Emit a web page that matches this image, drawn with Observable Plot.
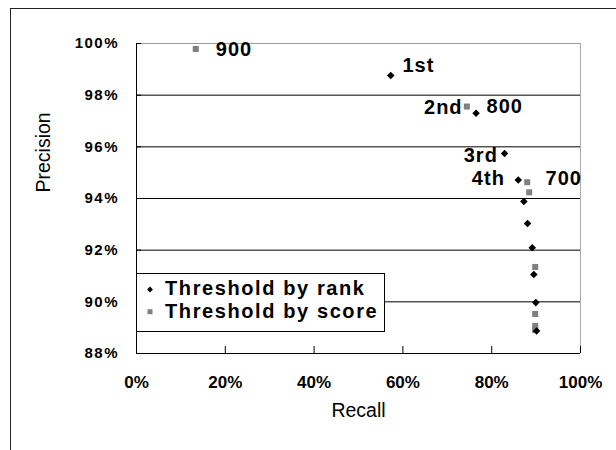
<!DOCTYPE html>
<html><head><meta charset="utf-8">
<script src="https://cdn.jsdelivr.net/npm/d3@7"></script>
<script src="https://cdn.jsdelivr.net/npm/@observablehq/plot@0.6"></script>
<style>
body{margin:0;background:#fff;}
#wrap{position:relative;width:616px;height:450px;overflow:hidden;font-family:"Liberation Sans",Arial,sans-serif;}
#outer{position:absolute;left:10px;top:8px;width:700px;height:600px;border-left:1.5px solid #222;border-top:1.5px solid #222;pointer-events:none;}
#chart{position:absolute;left:0;top:0;}
#legend{position:absolute;left:136px;top:273px;}
g[aria-label="x-axis tick label"]{font:bold 17px "Liberation Sans",Arial,sans-serif;}
g[aria-label="y-axis tick label"]{font:bold 15px "Liberation Sans",Arial,sans-serif;letter-spacing:1.5px;}
g.ptlabel{font:bold 20px "Liberation Sans",Arial,sans-serif;letter-spacing:1px;}
g.axlabel{font:19.5px "Liberation Sans",Arial,sans-serif;}
#legend text{font:bold 20px "Liberation Sans",Arial,sans-serif;letter-spacing:1.6px;}
</style>
</head><body>
<div id="wrap"><div id="chart"></div><div id="legend"></div><div id="outer"></div></div>
<script>
// Threshold by rank (black diamonds)
const rankRecall = [57.26, 76.48, 82.9, 85.98, 87.24, 88.07, 89.13, 89.49, 89.94, 90.1];
const rankPrecision = [98.76, 97.3, 95.74, 94.72, 93.88, 93.03, 92.09, 91.06, 89.97, 88.87];
const rankLabels = ["1st", "2nd", "3rd", "4th"];
// Threshold by score (grey squares)
const scoreRecall = [13.35, 74.4, 88.0, 88.45, 89.8, 89.8, 89.8, 89.8];
const scorePrecision = [99.79, 97.56, 94.63, 94.24, 91.35, 89.53, 89.07, 88.91];
const scoreLabels = ["900", "800", "700"];
// Axes
const xTicks = [0, 20, 40, 60, 80, 100];
const yTicks = [88, 90, 92, 94, 96, 98, 100];
const gridTicks = [90, 92, 94, 96, 98];
const seriesNames = ["Threshold by rank", "Threshold by score"];
const xTitle = "Recall";
const yTitle = "Precision";

function label(xs, ys, texts, i, anchor, dx, dy) {
  return Plot.text([i], {
    x: d => xs[d], y: d => ys[d], text: d => texts[d],
    textAnchor: anchor, dx, dy, fill: "#000", className: "ptlabel"
  });
}

const chart = Plot.plot({
  width: 616, height: 450,
  marginLeft: 136, marginRight: 36, marginTop: 43, marginBottom: 97,
  style: {background: "transparent", overflow: "visible"},
  x: {domain: [0, 100]},
  y: {domain: [88, 100]},
  marks: [
    Plot.gridY(gridTicks, {stroke: "#000", strokeOpacity: 1, strokeWidth: 1}),
    Plot.ruleY([100], {stroke: "#999"}),
    Plot.ruleX([100], {stroke: "#aaa"}),
    Plot.ruleX([0], {stroke: "#000"}),
    Plot.ruleY([88], {stroke: "#000"}),
    Plot.axisX({ticks: xTicks, tickFormat: d => d + "%", tickSize: -7, tickPadding: 29, label: null, stroke: "#000"}),
    Plot.axisY({ticks: yTicks, tickFormat: d => d + "%", tickSize: -5, tickPadding: 22.5, label: null, stroke: "#000"}),
    Plot.text([xTitle], {frameAnchor: "bottom", dy: 63, fill: "#000", className: "axlabel"}),
    Plot.text([yTitle], {frameAnchor: "left", rotate: -90, dx: -93, dy: -6, fill: "#000", className: "axlabel"}),
    Plot.dot(scoreRecall, {x: d => d, y: (d, i) => scorePrecision[i], symbol: "square", r: 3.4, fill: "#808080"}),
    Plot.dot(rankRecall, {x: d => d, y: (d, i) => rankPrecision[i], symbol: "diamond2", r: 3.4, fill: "#000"}),
    label(rankRecall, rankPrecision, rankLabels, 0, "start", 11.7, -10),
    label(rankRecall, rankPrecision, rankLabels, 1, "end", -13.5, -5.5),
    label(rankRecall, rankPrecision, rankLabels, 2, "end", -6.7, 2),
    label(rankRecall, rankPrecision, rankLabels, 3, "end", -13.4, -1),
    label(scoreRecall, scorePrecision, scoreLabels, 0, "start", 20, 0.5),
    label(scoreRecall, scorePrecision, scoreLabels, 1, "start", 19.7, 0.4),
    label(scoreRecall, scorePrecision, scoreLabels, 2, "start", 18.3, -3.4)
  ]
});
document.getElementById("chart").appendChild(chart);

// legend
const lg = d3.select("#legend").append("svg").attr("width", 250).attr("height", 60);
lg.append("rect").attr("x", 0.5).attr("y", 0.5).attr("width", 248).attr("height", 58)
  .attr("fill", "#fff").attr("stroke", "#000");
lg.append("path").attr("d", d3.symbol(d3.symbolDiamond2, 22)()).attr("transform", "translate(14,16.5)").attr("fill", "#000");
lg.append("path").attr("d", d3.symbol(d3.symbolSquare, 25)()).attr("transform", "translate(14,38.7)").attr("fill", "#808080");
lg.append("text").attr("x", 29).attr("y", 22).text(seriesNames[0]);
lg.append("text").attr("x", 29).attr("y", 45.3).text(seriesNames[1]);
</script>
</body></html>
